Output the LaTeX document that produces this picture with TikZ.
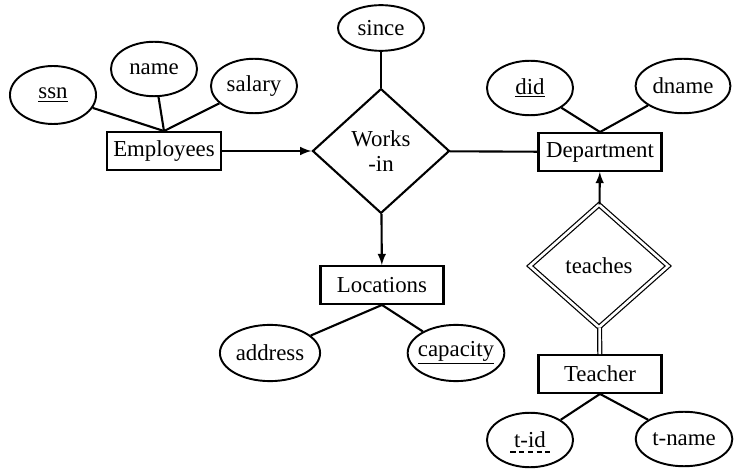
\documentclass[tikz,border=0pt]{standalone}
\usepackage{fontspec}
\setmainfont{Liberation Serif}
\usepackage{tikz}
\usetikzlibrary{shapes.geometric, arrows}
\tikzstyle{entity} = [rectangle, draw=black, line width=1.2pt, minimum width=70pt, minimum height=21.5pt, inner sep=1pt]
\tikzstyle{attribute} = [ellipse, draw=black, line width=1.1pt, minimum width=49pt, minimum height=31pt, inner sep=0pt]
\tikzstyle{relation} = [diamond, draw=black, line width=1.2pt, minimum width=78pt, minimum height=71pt, inner sep=0pt, align=center]
\tikzstyle{arrow} = [line width=1.2pt,->,>=latex]
\tikzstyle{link} = [line width=1.2pt]

\begin{document}
\begin{tikzpicture}[x=0.02cm, y=-0.02cm, font=\fontsize{13}{14.5}\selectfont]
\useasboundingbox (0,0) rectangle (734,476);
% Entities
\node[entity, minimum width=65pt] (emp) at (164,151) {Employees};
\node[entity] (dept) at (600,152) {Department};
\node[entity] (loc) at (382,285) {Locations};
\node[entity] (teacher) at (600,374) {Teacher};

% Relationships
\node[relation] (works) at (381,151) {Works\\-in};
\node[relation, line width=0.7pt, double, double distance=1.5pt, minimum width=79pt, minimum height=70pt] (teaches) at (599,266) {teaches};

% Attributes
\node[attribute, minimum height=33pt] (ssn) at (53,95) {\underline{ssn}};
\node[attribute] (name) at (154,69) {name};
\node[attribute] (salary) at (254,86) {salary};
\node[attribute, minimum height=26pt] (since) at (381,28) {since};
\node[attribute] (did) at (530,88) {\underline{did}};
\node[attribute, minimum width=54pt] (dname) at (683,86) {dname};
\node[attribute, minimum width=57pt, minimum height=32pt] (address) at (270,353) {address};
\node[attribute, minimum width=55pt, minimum height=32pt, inner xsep=-3pt] (capacity) at (456,353) {\underline{capacity}};
\node[attribute] (tid) at (530,440) {t-id};
\node[attribute, minimum width=55pt] (tname) at (684,439) {t-name};

% partial key: dashed underline
\node[inner sep=0pt] (tidtext) at (tid) {\phantom{t-id}};
\draw[line width=0.8pt, dash pattern=on 3pt off 2pt] ([xshift=-2pt,yshift=-2pt]tidtext.south west) -- ([xshift=2pt,yshift=-2pt]tidtext.south east);

% Links
\draw[link] (ssn) -- (emp.north);
\draw[link] (name) -- (emp.north);
\draw[link] (salary) -- (emp.north);
\draw[arrow] (emp) -- (works);
\draw[link] (since) -- (works);
\draw[link] (works) -- (dept);
\draw[arrow] (works) -- (loc);
\draw[link] (did) -- (dept.north);
\draw[link] (dname) -- (dept.north);
\draw[arrow] (teaches) -- (dept);
\draw[link, line width=0.7pt, double, double distance=1.5pt] (teaches) -- (teacher);
\draw[link] (loc.south) -- (address);
\draw[link] (loc.south) -- (capacity);
\draw[link] (teacher.south) -- (tid);
\draw[link] (teacher.south) -- (tname);
\end{tikzpicture}
\end{document}
